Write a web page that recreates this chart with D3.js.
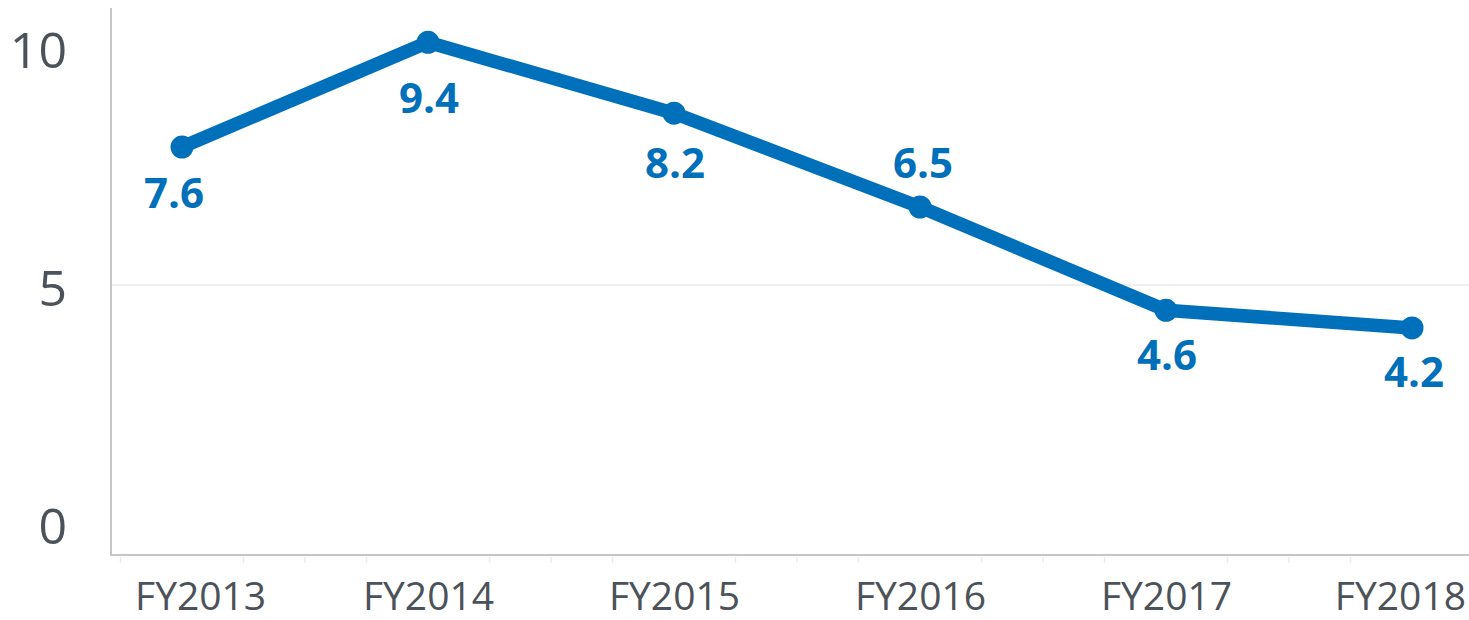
<!DOCTYPE html>
<html>
<head>
<meta charset="utf-8">
<script src="https://cdn.jsdelivr.net/npm/d3@7"></script>
<style>
  body { margin: 0; background: #ffffff; }
  text { font-family: "Open Sans", "Noto Sans", sans-serif; }
</style>
</head>
<body>
<script>
// categories and values
var categories = ["FY2013", "FY2014", "FY2015", "FY2016", "FY2017", "FY2018"];
// the labels printed next to each point
var labelValues = [7.6, 9.4, 8.2, 6.5, 4.6, 4.2];
// where each point actually sits against the left axis
var pointValues = [7.9, 10.1, 8.61, 6.64, 4.47, 4.1];
var yTicks = [0, 5, 10];
var gridValues = [5];

var svgWidth = 1469;
var svgHeight = 620;
var margin = {
    top: 8,
    right: 0,
    bottom: 65,
    left: 111
};

var blue = "#0070bb";
var textGrey = "#4b5259";
var axisGrey = "#c6c6c6";

// label offsets from their point (px)
var labelDx = [-8, 1, 1, 3, 1, 2];
var labelDy = [61, 71, 65, -29, 60, 59];

var svg = d3.select("body")
        .append("svg")
        .attr("width", svgWidth)
        .attr("height", svgHeight);

var xScale = d3.scalePoint()
        .domain(categories)
        .range([182, 1412]);

var step = xScale.step();

var yScale = d3.scaleLinear()
        .domain([-0.67, 10.82])
        .range([svgHeight - margin.bottom, margin.top]);

// gridline
svg.selectAll(".grid")
        .data(gridValues)
        .enter()
        .append("line")
        .attr("class", "grid")
        .attr("x1", margin.left)
        .attr("x2", svgWidth)
        .attr("y1", function (d) { return yScale(d); })
        .attr("y2", function (d) { return yScale(d); })
        .attr("stroke", "#efefef")
        .attr("stroke-width", 2);

// minor ticks on the category axis (quarter steps, none under the category itself)
var minorTicks = d3.range(-1, 22).filter(function (k) {
    return k % 4 !== 0;
}).map(function (k) {
    return xScale(categories[0]) + k * step / 4;
}).filter(function (x) {
    return x > margin.left && x < svgWidth;
});

svg.selectAll(".minor")
        .data(minorTicks)
        .enter()
        .append("line")
        .attr("class", "minor")
        .attr("x1", function (d) { return d; })
        .attr("x2", function (d) { return d; })
        .attr("y1", svgHeight - margin.bottom + 2)
        .attr("y2", svgHeight - margin.bottom + 8)
        .attr("stroke", "#ebebeb")
        .attr("stroke-width", 1.5);

// axis lines
svg.append("line")
        .attr("x1", margin.left)
        .attr("x2", margin.left)
        .attr("y1", margin.top)
        .attr("y2", svgHeight - margin.bottom + 1)
        .attr("stroke", axisGrey)
        .attr("stroke-width", 2);

svg.append("line")
        .attr("x1", margin.left)
        .attr("x2", svgWidth)
        .attr("y1", svgHeight - margin.bottom)
        .attr("y2", svgHeight - margin.bottom)
        .attr("stroke", axisGrey)
        .attr("stroke-width", 2);

// y tick labels
var yAxis = d3.axisLeft(yScale)
        .tickValues(yTicks)
        .tickFormat(d3.format("d"))
        .tickSize(0)
        .tickPadding(0);

var yG = svg.append("g")
        .attr("transform", "translate(67,0)")
        .call(yAxis);
yG.select(".domain").remove();
yG.selectAll("text")
        .attr("font-family", "'Open Sans', sans-serif")
        .attr("font-size", 50)
        .attr("fill", textGrey)
        .attr("dy", "0.4em");

// x tick labels, kept inside the picture at both ends
var xAxis = d3.axisBottom(xScale)
        .tickSize(0)
        .tickPadding(0);

var xG = svg.append("g")
        .attr("transform", "translate(0," + (svgHeight - 10) + ")")
        .call(xAxis);
xG.select(".domain").remove();
xG.selectAll("text")
        .attr("font-family", "'Open Sans', sans-serif")
        .attr("font-size", 39)
        .attr("fill", textGrey)
        .attr("dy", 0)
        .attr("x", function () {
            var w = this.getComputedTextLength();
            var cx = d3.select(this.parentNode).attr("transform").match(/translate\(([-\d.]+)/)[1] * 1;
            var minX = 135 + w / 2, maxX = 1466 - w / 2;
            return Math.max(minX, Math.min(maxX, cx)) - cx;
        });

// line and markers
var lineFunc = d3.line()
        .x(function (d, i) { return xScale(categories[i]); })
        .y(function (d) { return yScale(d); });

svg.append("path")
        .attr("d", lineFunc(pointValues))
        .attr("stroke", blue)
        .attr("stroke-width", 13.5)
        .attr("stroke-linejoin", "round")
        .attr("fill", "none");

svg.selectAll(".dot")
        .data(pointValues)
        .enter()
        .append("circle")
        .attr("class", "dot")
        .attr("cx", function (d, i) { return xScale(categories[i]); })
        .attr("cy", function (d) { return yScale(d); })
        .attr("r", 11.5)
        .attr("fill", blue);

svg.selectAll(".label")
        .data(labelValues)
        .enter()
        .append("text")
        .attr("class", "label")
        .attr("x", function (d, i) { return xScale(categories[i]) + labelDx[i]; })
        .attr("y", function (d, i) { return yScale(pointValues[i]) + labelDy[i]; })
        .attr("text-anchor", "middle")
        .attr("font-size", 42)
        .attr("font-weight", "bold")
        .attr("fill", blue)
        .text(function (d) { return d3.format(".1f")(d); });
</script>
</body>
</html>
